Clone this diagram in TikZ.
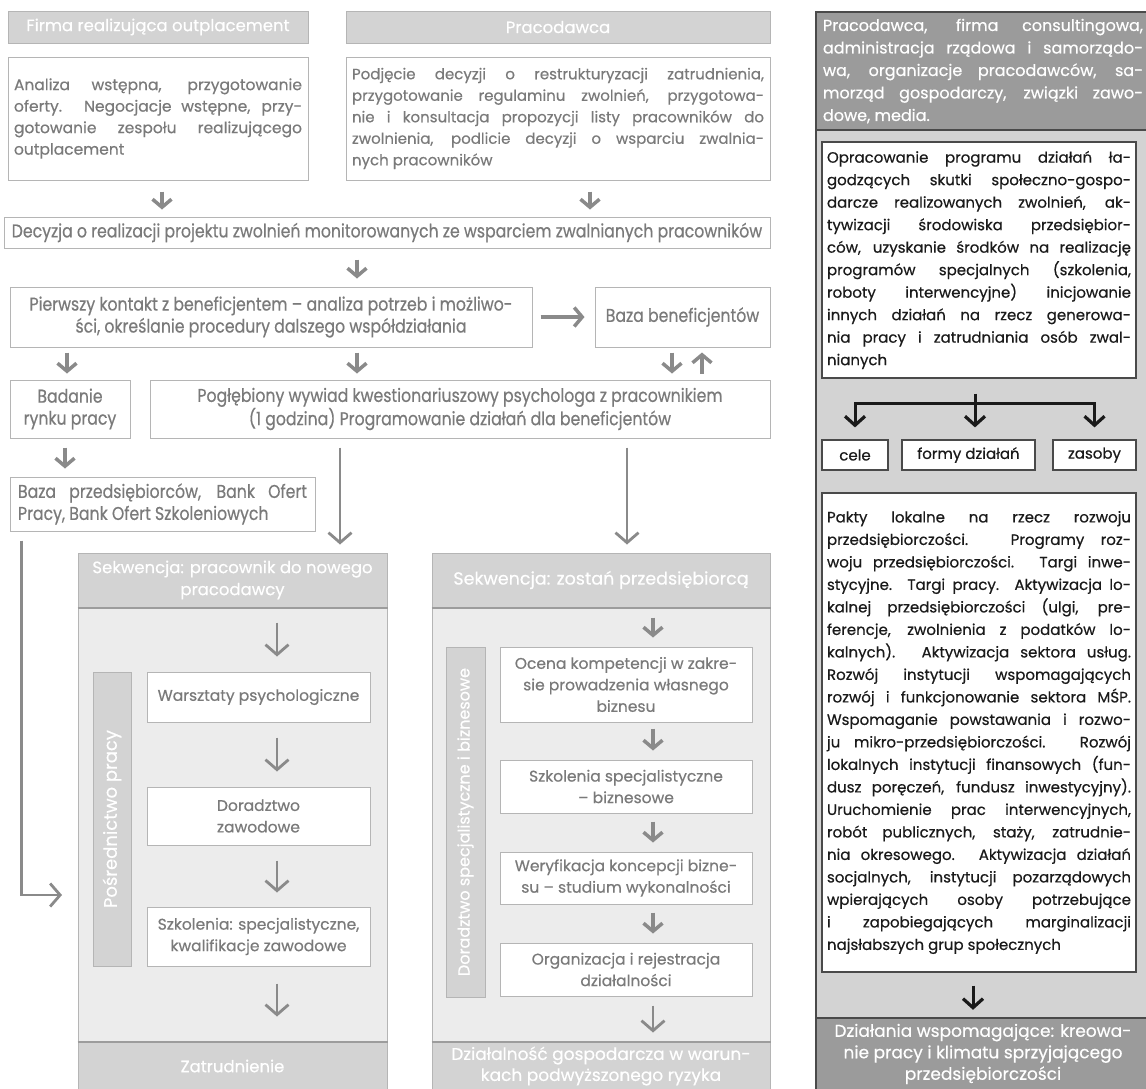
\documentclass[tikz,border=0pt]{standalone}
\usepackage{xcolor}
\usepackage{fontspec}
\setmainfont{Poppins}[FakeBold=0.5]
\newfontfamily\narrowfont{Poppins}[FakeStretch=0.85, FakeBold=0.5]
\usepackage{tikz}
\usetikzlibrary{arrows.meta}

\definecolor{txtgrey}{HTML}{7A7A7A}
\definecolor{boxline}{HTML}{B5B5B5}
\definecolor{hdrfill}{HTML}{D3D3D3}
\definecolor{seqbody}{HTML}{ECECEC}
\definecolor{seqline}{HTML}{9C9C9C}
\definecolor{arrgrey}{HTML}{8A8A8A}
\definecolor{panelfill}{HTML}{D3D3D3}
\definecolor{panelhdr}{HTML}{9B9B9B}
\definecolor{panelline}{HTML}{4A4A4A}
\definecolor{darktxt}{HTML}{1A1A1A}

\tikzset{
  greybox/.style={draw=boxline, line width=1pt, fill=white, text=txtgrey, inner sep=0pt,
    font=\fontsize{15.5}{21.5}\selectfont},
  narrowbox/.style={greybox, font=\narrowfont\fontsize{18.5}{22}\selectfont},
  greyhdr/.style={draw=boxline, line width=1pt, fill=hdrfill, text=white, inner sep=0pt,
    font=\fontsize{16.5}{22}\selectfont},
  seqback/.style={draw=boxline, line width=1pt, fill=seqbody, inner sep=0pt},
  sidebar/.style={draw=boxline, line width=1pt, fill=hdrfill, text=white, inner sep=0pt,
    rotate=90, font=\fontsize{16}{20}\selectfont},
  blackbox/.style={draw=panelline, line width=1.2pt, fill=white, text=darktxt, inner sep=0pt,
    font=\fontsize{15}{22.5}\selectfont},
  panelhead/.style={fill=panelhdr, text=white, inner sep=0pt,
    font=\fontsize{16}{22.5}\selectfont},
  thick arr/.style={draw=arrgrey, line width=3.5pt,
    -{Straight Barb[length=8pt,width=19pt,line width=3.5pt]}},
  long arr/.style={draw=arrgrey, line width=2.5pt,
    -{Straight Barb[length=10pt,width=23pt,line width=2.8pt]}},
  black arr/.style={draw=darktxt, line width=3pt,
    -{Straight Barb[length=9pt,width=20pt,line width=3.2pt]}},
}

\begin{document}
\begin{tikzpicture}[x=1pt, y=-1pt]
  \clip (0,0) rectangle (1146,1088);
  \fill[white] (0,0) rectangle (1146,1088);

  \node[greyhdr, minimum width=300pt, minimum height=32pt] (firma) at (158,27) {Firma realizująca outplacement};
  \node[greyhdr, minimum width=424pt, minimum height=32pt] (praco) at (558,27) {Pracodawca};

  \node[greybox, minimum width=300pt, minimum height=123pt, text width=288pt, align=justify] (analiza) at (158,118.5)
    {Analiza wstępna, przygotowanie\linebreak oferty. Negocjacje wstępne, przy-\linebreak gotowanie zespołu realizującego\linebreak outplacement};
  \node[greybox, minimum width=424pt, minimum height=123pt, text width=412pt, align=justify,
    font=\fontsize{15}{21.5}\selectfont] (podjecie) at (558,118.5)
    {Podjęcie decyzji o restrukturyzacji zatrudnienia,\linebreak przygotowanie regulaminu zwolnień, przygotowa-\linebreak nie i konsultacja propozycji listy pracowników do\linebreak zwolnienia, podlicie decyzji o wsparciu zwalnia-\linebreak nych pracowników};

  \node[narrowbox, minimum width=766pt, minimum height=31pt] (decyzja) at (387,232.5)
    {Decyzja o realizacji projektu zwolnień monitorowanych ze wsparciem zwalnianych pracowników};

  \node[narrowbox, minimum width=522pt, minimum height=60pt, align=center] (pierwszy) at (271,317)
    {Pierwszy kontakt z beneficjentem – analiza potrzeb i możliwo-\\ści, określanie procedury dalszego współdziałania};
  \node[narrowbox, minimum width=175pt, minimum height=60pt] (bazaben) at (682.5,317) {Baza beneficjentów};

  \node[narrowbox, minimum width=120pt, minimum height=58pt, align=center] (badanie) at (70,409) {Badanie\\rynku pracy};
  \node[narrowbox, minimum width=620pt, minimum height=58pt, align=center] (poglebiony) at (460,409)
    {Pogłębiony wywiad kwestionariuszowy psychologa z pracownikiem\\(1 godzina) Programowanie działań dla beneficjentów};

  \node[narrowbox, minimum width=305pt, minimum height=54pt, text width=289pt, align=justify] (bazaprz) at (162.5,504)
    {Baza przedsiębiorców, Bank Ofert\linebreak Pracy, Bank Ofert Szkoleniowych};

  \node[seqback, minimum width=309pt, minimum height=435pt] (seq1body) at (232.5,824.5) {};
  \node[greyhdr, minimum width=309pt, minimum height=54pt, align=center] (seq1head) at (232.5,580)
    {Sekwencja: pracownik do nowego\\pracodawcy};
  \node[greyhdr, minimum width=309pt, minimum height=48pt] (seq1foot) at (232.5,1066) {Zatrudnienie};
  \draw[seqline, line width=2pt] (seq1head.south west) -- (seq1head.south east);
  \draw[seqline, line width=2pt] (seq1foot.north west) -- (seq1foot.north east);

  \node[sidebar, minimum width=294pt, minimum height=38pt, font=\fontsize{18}{20}\selectfont] (bar1) at (112,819) {Pośrednictwo pracy};
  \node[greybox, minimum width=223pt, minimum height=50pt] (warsztaty) at (258.5,697) {Warsztaty psychologiczne};
  \node[greybox, minimum width=223pt, minimum height=58pt, align=center] (doradztwo) at (258.5,816) {Doradztwo\\zawodowe};
  \node[greybox, minimum width=223pt, minimum height=59pt, align=center] (szkol1) at (258.5,936.5)
    {Szkolenia: specjalistyczne,\\kwalifikacje zawodowe};

  \node[seqback, minimum width=338pt, minimum height=435pt] (seq2body) at (601,824.5) {};
  \node[greyhdr, minimum width=338pt, minimum height=54pt, font=\fontsize{17.5}{22}\selectfont] (seq2head) at (601,580)
    {Sekwencja: zostań przedsiębiorcą};
  \node[greyhdr, minimum width=338pt, minimum height=48pt, align=center, font=\fontsize{17}{21}\selectfont] (seq2foot) at (601,1066)
    {Działalność gospodarcza w warun-\\kach podwyższonego ryzyka};
  \draw[seqline, line width=2pt] (seq2head.south west) -- (seq2head.south east);
  \draw[seqline, line width=2pt] (seq2foot.north west) -- (seq2foot.north east);

  \node[sidebar, minimum width=350pt, minimum height=39pt] (bar2) at (465.5,822) {Doradztwo specjalistyczne i biznesowe};
  \node[greybox, minimum width=252pt, minimum height=75pt, align=center] (ocena) at (626,684.5)
    {Ocena kompetencji w zakre-\\sie prowadzenia własnego\\biznesu};
  \node[greybox, minimum width=252pt, minimum height=53pt, align=center] (szkol2) at (626,786.5)
    {Szkolenia specjalistyczne\\– biznesowe};
  \node[greybox, minimum width=252pt, minimum height=52pt, align=center] (weryf) at (626,878)
    {Weryfikacja koncepcji bizne-\\su – studium wykonalności};
  \node[greybox, minimum width=252pt, minimum height=53pt, align=center] (organ) at (626,969.5)
    {Organizacja i rejestracja\\działalności};

  \draw[thick arr, shorten <=11pt, shorten >=7pt] ([xshift=4pt]analiza.south) -- ([xshift=-225pt]decyzja.north);
  \draw[thick arr, shorten <=11pt, shorten >=7pt] ([xshift=32pt]podjecie.south) -- ([xshift=203pt]decyzja.north);
  \draw[thick arr, shorten <=11pt, shorten >=8pt] ([xshift=-30pt]decyzja.south) -- ([xshift=86pt]pierwszy.north);
  \draw[thick arr, shorten <=8pt, shorten >=10pt] (pierwszy.east) -- (bazaben.west);
  \draw[thick arr, shorten <=5pt, shorten >=6pt] ([xshift=-204pt]pierwszy.south) -- ([xshift=-3pt]badanie.north);
  \draw[thick arr, shorten <=5pt, shorten >=6pt] ([xshift=86pt]pierwszy.south) -- ([xshift=-103pt]poglebiony.north);
  \draw[thick arr, shorten <=5pt, shorten >=6pt] ([xshift=-10.5pt]bazaben.south) -- ([xshift=212pt]poglebiony.north);
  \draw[thick arr, shorten <=6pt, shorten >=5pt] ([xshift=242pt]poglebiony.north) -- ([xshift=19.5pt]bazaben.south);
  \draw[thick arr, shorten <=9pt, shorten >=8pt] ([xshift=-5pt]badanie.south) -- ([xshift=-97.5pt]bazaprz.north);

  \draw[long arr, shorten <=9pt, shorten >=8pt] ([xshift=-120pt]poglebiony.south) -- ([xshift=107.5pt]seq1head.north);
  \draw[long arr, shorten <=9pt, shorten >=8pt] ([xshift=167pt]poglebiony.south) -- ([xshift=26pt]seq2head.north);
  \coordinate (entry) at (62,895);
  \draw[long arr] ([xshift=12pt,yshift=-9pt]bazaprz.south west) |- (entry);

  \draw[long arr, shorten <=15pt, shorten >=15pt] ([xshift=44.5pt]seq1head.south) -- ([xshift=18.5pt]warsztaty.north);
  \draw[long arr, shorten <=15pt, shorten >=15pt] ([xshift=18.5pt]warsztaty.south) -- ([xshift=18.5pt]doradztwo.north);
  \draw[long arr, shorten <=15pt, shorten >=14pt] ([xshift=18.5pt]doradztwo.south) -- ([xshift=18.5pt]szkol1.north);
  \draw[long arr, shorten <=17pt, shorten >=25pt] ([xshift=18.5pt]szkol1.south) -- ([xshift=44.5pt]seq1foot.north);

  \draw[thick arr, shorten <=10pt, shorten >=9pt] ([xshift=52pt]seq2head.south) -- ([xshift=27pt]ocena.north);
  \draw[thick arr, shorten <=6pt, shorten >=9pt] ([xshift=27pt]ocena.south) -- ([xshift=27pt]szkol2.north);
  \draw[thick arr, shorten <=8pt, shorten >=9pt] ([xshift=27pt]szkol2.south) -- ([xshift=27pt]weryf.north);
  \draw[thick arr, shorten <=8pt, shorten >=9pt] ([xshift=27pt]weryf.south) -- ([xshift=27pt]organ.north);
  \draw[long arr, shorten <=9pt, shorten >=9pt] ([xshift=27pt]organ.south) -- ([xshift=52pt]seq2foot.north);

  \fill[panelfill] (816,12) rectangle (1150,1100);
  \node[panelhead, minimum width=334pt, minimum height=118pt, text width=320pt, align=justify] (rphead) at (983,71)
    {Pracodawca, firma consultingowa,\linebreak administracja rządowa i samorządo-\linebreak wa, organizacje pracodawców, sa-\linebreak morząd gospodarczy, związki zawo-\linebreak dowe, media.};
  \node[panelhead, minimum width=334pt, minimum height=72pt, align=center, font=\fontsize{17}{21.5}\selectfont] (rpfoot) at (983,1054)
    {Działania wspomagające: kreowa-\\nie pracy i klimatu sprzyjającego\\przedsiębiorczości};
  \draw[panelline, line width=1.5pt] (816,12) rectangle (1150,1100);
  \draw[panelline, line width=1.5pt] (rphead.south west) -- (rphead.south east);
  \draw[panelline, line width=1.5pt] (rpfoot.north west) -- (rpfoot.north east);

  \node[blackbox, minimum width=314pt, minimum height=236pt, text width=304pt, align=justify] (oprac) at (979,260)
    {Opracowanie programu działań ła-\linebreak godzących skutki społeczno-gospo-\linebreak darcze realizowanych zwolnień, ak-\linebreak tywizacji środowiska przedsiębior-\linebreak ców, uzyskanie środków na realizację\linebreak programów specjalnych (szkolenia,\linebreak roboty interwencyjne) inicjowanie\linebreak innych działań na rzecz generowa-\linebreak nia pracy i zatrudniania osób zwal-\linebreak nianych};

  \node[blackbox, minimum width=66pt, minimum height=30pt] (cele) at (855,455) {cele};
  \node[blackbox, minimum width=133pt, minimum height=30pt] (formy) at (968.5,455) {formy działań};
  \node[blackbox, minimum width=83pt, minimum height=30pt] (zasoby) at (1094.5,455) {zasoby};

  \node[blackbox, minimum width=314pt, minimum height=479pt, text width=304pt, align=justify] (pakty) at (979,732.5)
    {Pakty lokalne na rzecz rozwoju\linebreak przedsiębiorczości. Programy roz-\linebreak woju przedsiębiorczości. Targi inwe-\linebreak stycyjne. Targi pracy. Aktywizacja lo-\linebreak kalnej przedsiębiorczości (ulgi, pre-\linebreak ferencje, zwolnienia z podatków lo-\linebreak kalnych). Aktywizacja sektora usług.\linebreak Rozwój instytucji wspomagających\linebreak rozwój i funkcjonowanie sektora MŚP.\linebreak Wspomaganie powstawania i rozwo-\linebreak ju mikro-przedsiębiorczości. Rozwój\linebreak lokalnych instytucji finansowych (fun-\linebreak dusz poręczeń, fundusz inwestycyjny).\linebreak Uruchomienie prac interwencyjnych,\linebreak robót publicznych, staży, zatrudnie-\linebreak nia okresowego. Aktywizacja działań\linebreak socjalnych, instytucji pozarządowych\linebreak wpierających osoby potrzebujące\linebreak i zapobiegających marginalizacji\linebreak najsłabszych grup społecznych};

  \coordinate (fork) at (975,403);
  \draw[darktxt, line width=3pt] ([xshift=-4pt,yshift=-15pt]oprac.south) -- (fork);
  \draw[black arr] (fork) -| ([yshift=12pt]cele.north);
  \draw[black arr] (fork) -| ([yshift=12pt]zasoby.north);
  \draw[black arr] (fork) -- ([xshift=6.5pt,yshift=12pt]formy.north);
  \draw[black arr] ([xshift=-6pt,yshift=-13pt]pakty.south) -- ([xshift=-10pt,yshift=8pt]rpfoot.north);
\end{tikzpicture}
\end{document}
